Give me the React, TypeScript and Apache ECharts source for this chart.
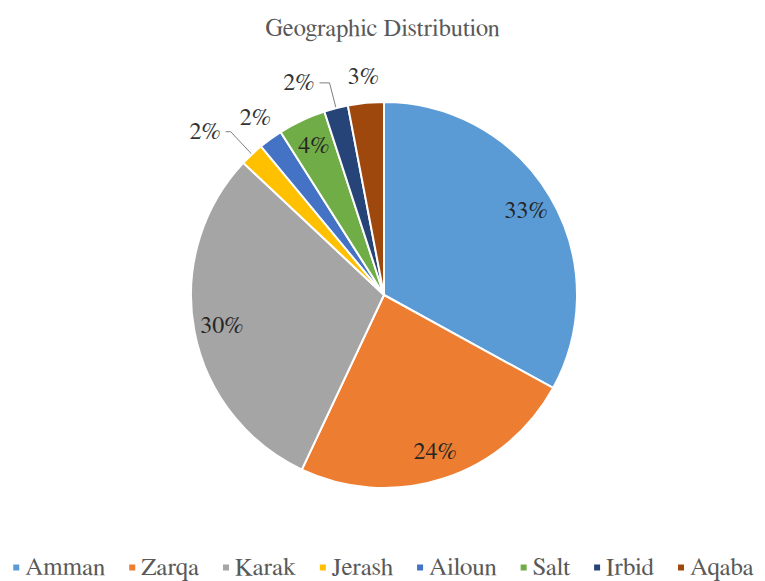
import React, { useEffect, useRef } from "react";
import * as echarts from "echarts";

const chartTitle = "Geographic Distribution";
const categories = ["Amman", "Zarqa", "Karak", "Jerash", "Ailoun", "Salt", "Irbid", "Aqaba"];
const shares = [33, 24, 30, 2, 2, 4, 2, 3];
const sliceColors = ["#5B9BD5", "#ED7D31", "#A5A5A5", "#FFC000", "#4472C4", "#70AD47", "#264478", "#9E480E"];
const insideLabelled = ["Amman", "Zarqa", "Karak", "Salt"];
const ringLabelled = ["Ailoun", "Aqaba"];
const leaderLabelled = ["Jerash", "Irbid"];

const FONT = "FreeSerif, DejaVu Serif, serif";

export default function App() {
  const ref = useRef<HTMLDivElement>(null);

  useEffect(() => {
    if (!ref.current) return;
    const chart = echarts.init(ref.current, undefined, { renderer: "svg" });

    const leader: Record<string, { len: number; len2: number }> = {
      Jerash: { len: 31, len2: 5 },
      Irbid: { len: 26, len2: 10 },
    };

    const mainData = categories.map((name, i) => {
      const o = leaderLabelled.includes(name) ? leader[name] : null;
      return {
        name,
        value: shares[i],
        itemStyle: { color: sliceColors[i] },
        label: o ? { show: true, position: "outside" } : { show: false },
        labelLine: o ? { show: true, length: o.len, length2: o.len2, smooth: false } : { show: false },
      };
    });

    const helperData = (shown: string[]) =>
      categories.map((name, i) => ({
        name,
        value: shares[i],
        itemStyle: { color: "transparent", borderWidth: 0 },
        label: { show: shown.includes(name) },
      }));

    const labelStyle = {
      position: "inside",
      formatter: "{c}%",
      fontFamily: FONT,
      fontSize: 24,
      color: "#262626",
    };

    chart.setOption({
      animation: false,
      backgroundColor: "#ffffff",
      title: {
        text: chartTitle,
        left: "center",
        top: 11,
        textStyle: { fontFamily: FONT, fontSize: 24.5, fontWeight: "normal", color: "#595959" },
      },
      legend: {
        data: categories,
        left: "center",
        top: 555,
        padding: 0,
        icon: "rect",
        itemWidth: 8,
        itemHeight: 8,
        itemGap: 22,
        textStyle: { fontFamily: FONT, fontSize: 25, color: "#595959" },
      },
      series: [
        {
          type: "pie",
          center: [384, 295],
          radius: [0, 193],
          startAngle: 90,
          clockwise: true,
          avoidLabelOverlap: false,
          itemStyle: { borderColor: "#ffffff", borderWidth: 2 },
          label: {
            formatter: "{c}%",
            fontFamily: FONT,
            fontSize: 24,
            color: "#333333",
          },
          labelLine: { lineStyle: { color: "#7f7f7f", width: 1 } },
          emphasis: { disabled: true },
          data: mainData,
        },
        {
          type: "pie",
          center: [384, 295],
          radius: [131, 193],
          startAngle: 90,
          clockwise: true,
          silent: true,
          legendHoverLink: false,
          avoidLabelOverlap: false,
          label: labelStyle,
          labelLine: { show: false },
          emphasis: { disabled: true },
          data: helperData(insideLabelled),
        },
        {
          type: "pie",
          center: [384, 295],
          radius: [193, 239],
          startAngle: 90,
          clockwise: true,
          silent: true,
          legendHoverLink: false,
          avoidLabelOverlap: false,
          label: { ...labelStyle, color: "#333333" },
          labelLine: { show: false },
          emphasis: { disabled: true },
          data: helperData(ringLabelled),
        },
      ],
    });

    return () => chart.dispose();
  }, []);

  return (
    <div
      ref={ref}
      style={{ position: "fixed", left: 0, top: 0, width: 765, height: 581, background: "#fff" }}
    />
  );
}
